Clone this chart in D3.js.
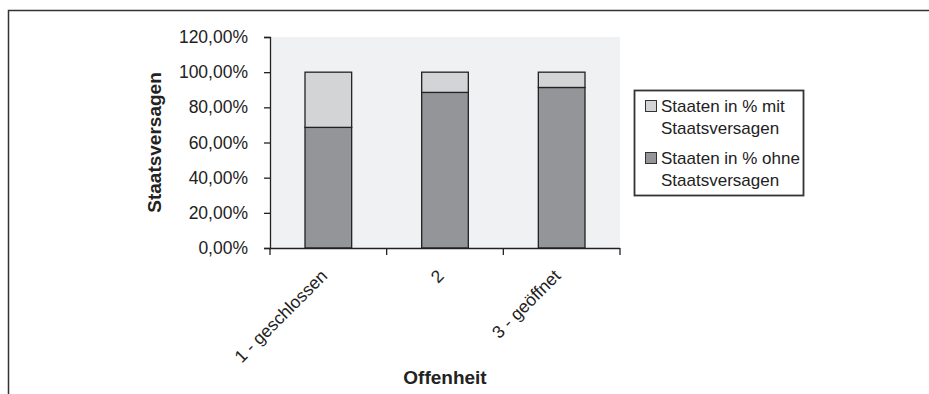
<!DOCTYPE html>
<html>
<head>
<meta charset="utf-8">
<script src="https://cdn.jsdelivr.net/npm/d3@7"></script>
<style>
  html, body { margin: 0; padding: 0; background: #fff; }
  svg { display: block; font-family: "Liberation Sans", Arial, Helvetica, sans-serif; }
</style>
</head>
<body>
<svg id="chart" width="929" height="394"></svg>
<script>
// ---- data ----
const categories = ["1 - geschlossen", "2", "3 - geöffnet"];
const ohneStaatsversagen = [68.6, 88.5, 91.3];
const mitStaatsversagen = [31.4, 11.5, 8.7];
const seriesNames = ["Staaten in % mit Staatsversagen", "Staaten in % ohne Staatsversagen"];
const legendLines = [["Staaten in % mit", "Staatsversagen"], ["Staaten in % ohne", "Staatsversagen"]];
const yTickValues = [0, 20, 40, 60, 80, 100, 120];
const yTickLabels = ["0,00%", "20,00%", "40,00%", "60,00%", "80,00%", "100,00%", "120,00%"];
const yTitle = "Staatsversagen";
const xTitle = "Offenheit";

// ---- layout ----
const svg = d3.select("#chart");
const plot = { left: 270, right: 620, top: 37, bottom: 248 };
const colors = { mit: "#d3d4d6", ohne: "#939598", bg: "#f0f1f3", line: "#222" };
const FS = "17.5px";

const x = d3.scaleBand().domain(categories).range([plot.left, plot.right]).paddingInner(0).paddingOuter(0);
const y = d3.scaleLinear().domain([0, 120]).range([plot.bottom, plot.top]);
const barW = x.bandwidth() / 2.5;

// outer chart border
svg.append("path")
  .attr("d", "M8.5,394 V10.5 H929")
  .attr("fill", "none").attr("stroke", "#333").attr("stroke-width", 1.5);

// plot background
svg.append("rect")
  .attr("x", plot.left).attr("y", plot.top)
  .attr("width", plot.right - plot.left).attr("height", plot.bottom - plot.top)
  .attr("fill", colors.bg);

// bars
const rows = categories.map((c, i) => ({ cat: c, ohne: ohneStaatsversagen[i], mit: mitStaatsversagen[i] }));
const stack = d3.stack().keys(["ohne", "mit"])(rows);
stack.forEach(layer => {
  svg.append("g").selectAll("rect").data(layer).join("rect")
    .attr("x", d => x(d.data.cat) + (x.bandwidth() - barW) / 2)
    .attr("y", d => y(d[1]))
    .attr("width", barW)
    .attr("height", d => y(d[0]) - y(d[1]))
    .attr("fill", layer.key === "mit" ? colors.mit : colors.ohne)
    .attr("stroke", colors.line).attr("stroke-width", 1.3);
});

// y axis
const yAxis = svg.append("g")
  .attr("transform", `translate(${plot.left},0)`)
  .call(d3.axisLeft(y).tickValues(yTickValues)
    .tickFormat((d, i) => yTickLabels[i]).tickSize(6).tickPadding(16));
yAxis.attr("font-size", null).attr("font-family", null);
yAxis.select(".domain").attr("stroke", colors.line).attr("stroke-width", 1.3);
yAxis.selectAll(".tick line").attr("stroke", colors.line).attr("stroke-width", 1.3);
yAxis.selectAll(".tick text").style("font-size", FS).attr("fill", "#222");

// x axis
const xAxis = svg.append("g")
  .attr("transform", `translate(0,${plot.bottom})`)
  .call(d3.axisBottom(x).tickSize(0).tickPadding(0));
xAxis.attr("font-size", null).attr("font-family", null);
xAxis.select(".domain").attr("d", `M${plot.left},0.5H${plot.right}`)
  .attr("stroke", colors.line).attr("stroke-width", 1.3);
xAxis.selectAll(".tick text")
  .style("font-size", FS).attr("fill", "#222")
  .attr("text-anchor", "end")
  .attr("dy", "0")
  .attr("transform", "translate(0,29) rotate(-45)");
// boundary ticks
const bounds = categories.map(c => x(c)).concat([x(categories[categories.length - 1]) + x.bandwidth()]);
xAxis.selectAll("line.bt").data(bounds).join("line")
  .attr("class", "bt")
  .attr("x1", d => d).attr("x2", d => d)
  .attr("y1", 0).attr("y2", 7)
  .attr("stroke", colors.line).attr("stroke-width", 1.3);

// axis titles
svg.append("text")
  .attr("transform", `translate(161,${(plot.top + plot.bottom) / 2}) rotate(-90)`)
  .attr("text-anchor", "middle")
  .style("font-size", "19px").attr("font-weight", "bold").attr("fill", "#222")
  .text(yTitle);
svg.append("text")
  .attr("x", (plot.left + plot.right) / 2).attr("y", 384)
  .attr("text-anchor", "middle")
  .style("font-size", "19px").attr("font-weight", "bold").attr("fill", "#222")
  .text(xTitle);

// legend
const lg = svg.append("g");
lg.append("rect").attr("x", 634.5).attr("y", 90.5).attr("width", 169).attr("height", 105)
  .attr("fill", "#fff").attr("stroke", "#333").attr("stroke-width", 1.8);
const legendColors = [colors.mit, colors.ohne];
const legendBaselines = [[112, 134], [164, 186]];
legendLines.forEach((lines, i) => {
  lg.append("rect")
    .attr("x", 645.5).attr("y", legendBaselines[i][0] - 11.5)
    .attr("width", 11).attr("height", 11)
    .attr("fill", legendColors[i]).attr("stroke", "#333").attr("stroke-width", 1);
  lines.forEach((t, j) => {
    lg.append("text")
      .attr("x", 661).attr("y", legendBaselines[i][j])
      .style("font-size", "17px").attr("fill", "#222")
      .text(t);
  });
});
</script>
</body>
</html>
